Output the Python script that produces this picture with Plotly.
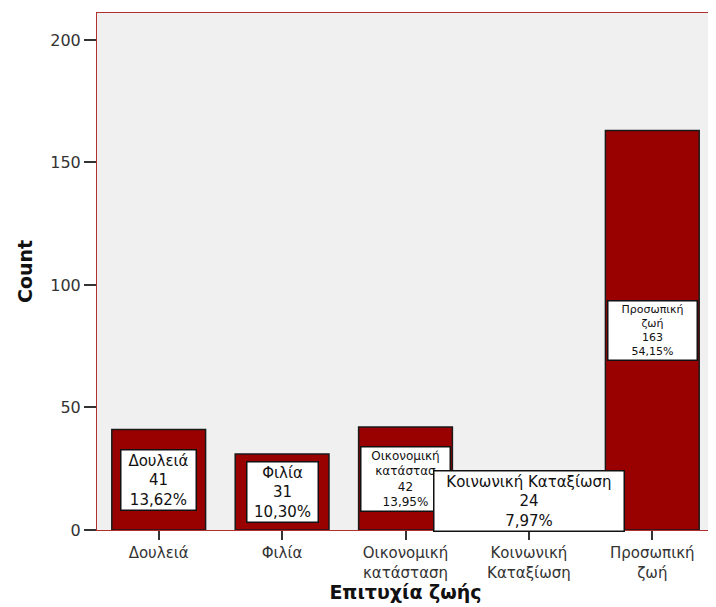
import plotly.graph_objects as go

categories = ["Δουλειά", "Φιλία", "Οικονομική κατάσταση", "Κοινωνική Καταξίωση", "Προσωπική ζωή"]
tick_labels = ["Δουλειά", "Φιλία", "Οικονομική<br>κατάσταση", "Κοινωνική<br>Καταξίωση", "Προσωπική<br>ζωή"]
counts = [41, 31, 42, 24, 163]
percents = ["13,62%", "10,30%", "13,95%", "7,97%", "54,15%"]
label_names = ["Δουλειά", "Φιλία", "Οικονομική<br>κατάστασ", "Κοινωνική Καταξίωση", "Προσωπική<br>ζωή"]

FONT = "DejaVu Sans, Verdana, sans-serif"
label_sizes = [15, 15, 12, 15, 11]
label_widths = [72, 68, 86, 187, 86]

fig = go.Figure()
fig.add_trace(go.Bar(
    x=categories, y=counts, width=0.76,
    marker=dict(color="#990000", line=dict(color="#1a1a1a", width=1.5)),
    hoverinfo="skip",
))

for i, cat in enumerate(categories):
    fig.add_annotation(
        x=cat, y=counts[i] / 2, xref="x", yref="y",
        text=label_names[i] + "<br>" + str(counts[i]) + "<br>" + percents[i],
        showarrow=False, align="center",
        font=dict(family=FONT, size=label_sizes[i], color="#111"),
        bgcolor="white", bordercolor="#111", borderwidth=1.5, borderpad=1,
        width=label_widths[i],
    )

# page body has an 8px margin, so the figure is sized and offset for it
fig.update_layout(
    width=708, height=599,
    margin=dict(l=89, r=2, t=5, b=77),
    paper_bgcolor="white", plot_bgcolor="#F0F0F0",
    showlegend=False, bargap=0.24,
    font=dict(family=FONT, color="#333"),
)
fig.update_xaxes(
    tickvals=categories, ticktext=tick_labels, automargin=False,
    tickfont=dict(size=15, color="#333"),
    ticks="outside", ticklen=9, tickcolor="#333", tickwidth=1.5,
    showline=True, linecolor="#B03030", linewidth=1, mirror=True,
    title=dict(text="<b>Επιτυχία ζωής</b>", font=dict(size=19, color="#111"), standoff=0),
    showgrid=False,
)
fig.update_yaxes(
    range=[0, 211], tickvals=[0, 50, 100, 150, 200], automargin=False,
    tickfont=dict(size=16, color="#333"),
    ticks="outside", ticklen=12, tickcolor="#333", tickwidth=1.5,
    showline=True, linecolor="#B03030", linewidth=1, mirror=True,
    title=dict(text="<b>Count</b>", font=dict(size=19, color="#111"), standoff=12),
    showgrid=False, zeroline=False,
)

fig.write_html("out.html")
